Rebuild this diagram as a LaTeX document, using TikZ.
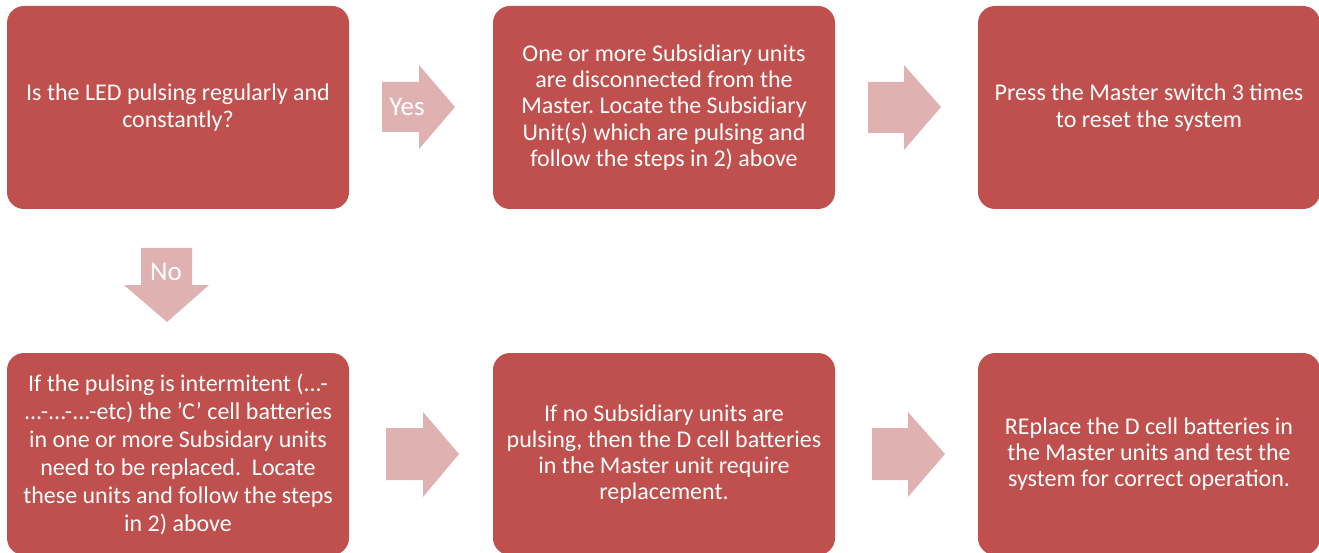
\documentclass[tikz,border=0pt]{standalone}
\usepackage{fontspec}
\setmainfont{Carlito}
\frenchspacing
\definecolor{boxred}{HTML}{C0504D}
\definecolor{arrowpink}{HTML}{DFB2B1}
\newcommand{\sq}{\symbol{39}}
\begin{document}
\begin{tikzpicture}[x=1pt,y=-1pt,
  stepbox/.style={fill=boxred, draw=none, rounded corners=17pt, inner sep=0pt,
    minimum width=342pt, minimum height=203pt, text=white, align=center,
    font=\fontsize{24}{26.4}\selectfont},
  blockarrow/.style={fill=arrowpink, draw=none},
  arrowlabel/.style={text=white, inner sep=0pt, font=\fontsize{27}{30}\selectfont}]
\useasboundingbox (0,0) rectangle (1319,553);

% top row
\node[stepbox] (q) at (178,107.5)
  {Is the LED pulsing regularly and\\constantly?};
\node[stepbox] (disc) at (664,107.5)
  {One or more Subsidiary units\\are disconnected from the\\Master. Locate the Subsidiary\\Unit(s) which are pulsing and\\follow the steps in 2) above};
\node[stepbox] (reset) at (1149,107.5)
  {Press the Master switch 3 times\\to reset the system};

% bottom row
\node[stepbox, minimum height=202pt, font=\fontsize{24}{28}\selectfont] (inter) at (178,454)
  {If the pulsing is intermitent (.{}.{}.-\\.{}.{}.-.{}.{}.-.{}.{}.-etc) the \sq C\sq{} cell batteries\\in one or more Subsidary units\\need to be replaced.\ \ Locate\\these units and follow the steps\\in 2) above};
\node[stepbox, minimum height=202pt, font=\fontsize{24}{25.8}\selectfont] (nosub) at (664,454)
  {If no Subsidiary units are\\pulsing, then the D cell batteries\\in the Master unit require\\replacement.};
\node[stepbox, minimum height=202pt] (repl) at (1149,454)
  {REplace the D cell batteries in\\the Master units and test the\\system for correct operation.};

% block arrows between the steps
\fill[blockarrow] (382,82) -- (419,82) -- (419,65) -- (455,107) -- (419,149) -- (419,132) -- (382,132) -- cycle;
\node[arrowlabel] (yes) at (407,107) {Yes};
\fill[blockarrow] (868,82) -- (904,82) -- (904,65) -- (941,107) -- (904,150) -- (904,133) -- (868,133) -- cycle;
\fill[blockarrow] (141,248) -- (192,248) -- (192,285) -- (209,285) -- (167,322) -- (124,285) -- (141,285) -- cycle;
\node[arrowlabel] (no) at (166,272) {No};
\fill[blockarrow] (386,428) -- (423,428) -- (423,412) -- (459,454) -- (423,497) -- (423,480) -- (386,480) -- cycle;
\fill[blockarrow] (872,428) -- (908,428) -- (908,412) -- (945,454) -- (908,497) -- (908,480) -- (872,480) -- cycle;
\end{tikzpicture}
\end{document}
